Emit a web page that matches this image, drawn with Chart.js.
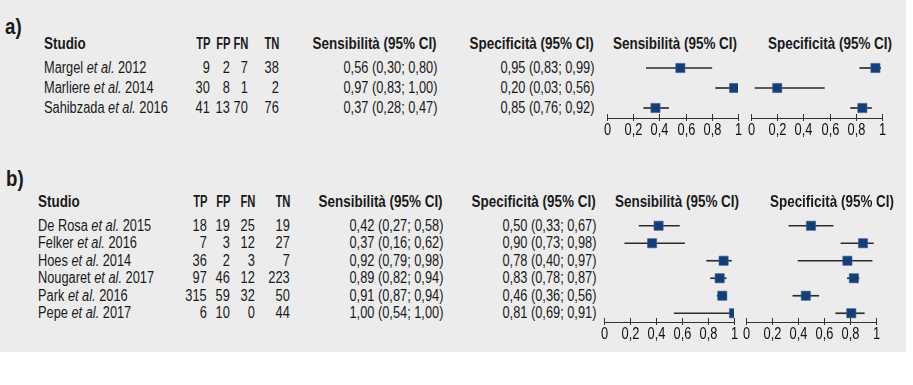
<!DOCTYPE html>
<html>
<head>
<meta charset="utf-8">
<script src="https://cdn.jsdelivr.net/npm/chart.js@4"></script>
<style>
  body { margin: 0; background: #fff; }
  #panel { position: absolute; left: 0; top: 0; width: 906px; height: 352px; background: #ececec; overflow: hidden; }
  .t { position: absolute; white-space: nowrap; font-family: 'Liberation Sans', Arial, sans-serif;
       font-size: 16px; line-height: 16px; color: #1a1a1a; transform: scaleX(0.8); transform-origin: left center; }
  .b { font-weight: bold; transform: scaleX(0.84); }
  .n { transform: scaleX(0.7); }
  .r { transform-origin: right center; }
  .title { font-weight: bold; font-size: 22px; line-height: 22px; transform: scaleX(0.85); }
  canvas { position: absolute; }
</style>
</head>
<body>
<div id="panel"></div>
<script>
const FONT = "'Liberation Sans', Arial, sans-serif";
const PANEL_W = 906;
const tickLabels = ['0', '0,2', '0,4', '0,6', '0,8', '1'];
const headers = ['Studio', 'TP', 'FP', 'FN', 'TN', 'Sensibilità (95% CI)', 'Specificità (95% CI)'];

// a)
const authorsA = ['Margel', 'Marliere', 'Sahibzada'];
const yearsA = [2012, 2014, 2016];
const tpA = [9, 30, 41];
const fpA = [2, 8, 13];
const fnA = [7, 1, 70];
const tnA = [38, 2, 76];
const sensA = [0.56, 0.97, 0.37];
const sensLoA = [0.30, 0.83, 0.28];
const sensHiA = [0.80, 1.00, 0.47];
const specA = [0.95, 0.20, 0.85];
const specLoA = [0.83, 0.03, 0.76];
const specHiA = [0.99, 0.56, 0.92];

// b)
const authorsB = ['De Rosa', 'Felker', 'Hoes', 'Nougaret', 'Park', 'Pepe'];
const yearsB = [2015, 2016, 2014, 2017, 2016, 2017];
const tpB = [18, 7, 36, 97, 315, 6];
const fpB = [19, 3, 2, 46, 59, 10];
const fnB = [25, 12, 3, 12, 32, 0];
const tnB = [19, 27, 7, 223, 50, 44];
const sensB = [0.42, 0.37, 0.92, 0.89, 0.91, 1.00];
const sensLoB = [0.27, 0.16, 0.79, 0.82, 0.87, 0.54];
const sensHiB = [0.58, 0.62, 0.98, 0.94, 0.94, 1.00];
const specB = [0.50, 0.90, 0.78, 0.83, 0.46, 0.81];
const specLoB = [0.33, 0.73, 0.40, 0.78, 0.36, 0.69];
const specHiB = [0.67, 0.98, 0.97, 0.87, 0.56, 0.91];

const panel = document.getElementById('panel');

function put(html, x, y, cls, right) {
  const d = document.createElement('div');
  d.className = 't ' + (cls || '') + (right ? ' r' : '');
  d.innerHTML = html;
  if (right) d.style.right = (PANEL_W - x) + 'px';
  else d.style.left = x + 'px';
  d.style.top = (y - 8) + 'px';
  panel.appendChild(d);
  return d;
}

const f2 = v => v.toFixed(2).replace('.', ',');
const ci = (e, l, h) => `${f2(e)} (${f2(l)}; ${f2(h)})`;

// narrow tick labels + ticks crossing the axis line
const axisDecor = {
  id: 'axisDecor',
  afterDraw(chart) {
    const sx = chart.scales.x;
    const ctx = chart.ctx;
    const y0 = sx.top;
    ctx.save();
    ctx.strokeStyle = '#333';
    ctx.lineWidth = 1;
    ctx.fillStyle = '#111';
    ctx.font = '16px ' + FONT;
    ctx.textAlign = 'center';
    ctx.textBaseline = 'middle';
    sx.ticks.forEach((t, i) => {
      const x = Math.round(sx.getPixelForValue(t.value)) + 0.5;
      ctx.beginPath();
      ctx.moveTo(x, y0 - 4);
      ctx.lineTo(x, y0 + 3);
      ctx.stroke();
      ctx.save();
      ctx.translate(x, y0 + 13);
      ctx.scale(0.8, 1);
      ctx.fillText(tickLabels[i], 0, 0);
      ctx.restore();
    });
    ctx.restore();
  },
};

function forest(x0, w, top, bottom, labels, est, lo, hi) {
  const padL = 14, padR = 14, padT = 8, axisH = 24, padB = 4;
  const c = document.createElement('canvas');
  c.width = w + padL + padR;
  c.height = bottom - top + padT + axisH + padB;
  c.style.left = (x0 - padL) + 'px';
  c.style.top = (top - padT) + 'px';
  panel.appendChild(c);
  new Chart(c, {
    type: 'bar',
    data: {
      labels: labels,
      datasets: [
        {
          type: 'bar',
          data: lo.map((l, i) => [l, hi[i]]),
          backgroundColor: '#2b2b2b',
          barThickness: 1,
          borderWidth: 0,
          order: 2,
        },
        {
          type: 'line',
          data: est,
          showLine: false,
          pointStyle: 'rect',
          pointRadius: 6.5,
          pointBackgroundColor: '#143e7a',
          pointBorderColor: '#3a6298',
          pointBorderWidth: 0.6,
          order: 1,
        },
      ],
    },
    options: {
      indexAxis: 'y',
      responsive: false,
      animation: false,
      devicePixelRatio: 1,
      layout: { padding: { left: padL, right: padR, top: padT, bottom: padB } },
      plugins: { legend: { display: false }, tooltip: { enabled: false } },
      scales: {
        y: { display: false, offset: true },
        x: {
          type: 'linear',
          min: 0,
          max: 1,
          afterFit: s => { s.height = axisH; },
          border: { display: true, color: '#333', width: 1 },
          grid: { drawOnChartArea: false, drawTicks: false },
          ticks: { stepSize: 0.2, display: false },
        },
      },
    },
    plugins: [axisDecor],
  });
}

function drawPanel(p, d) {
  put(p.title, p.titleX, p.titleY, 'title');
  const hy = p.headerY;
  put(headers[0], p.studio, hy, 'b');
  ['tp', 'fp', 'fn', 'tn'].forEach((k, j) => put(headers[j + 1], p[k], hy, 'b n', true));
  put(headers[5], p.sens, hy, 'b', true);
  put(headers[6], p.spec, hy, 'b', true);
  put(headers[5], p.sensHead, hy, 'b');
  put(headers[6], p.specHead, hy, 'b');

  const n = d.authors.length;
  const rowH = (p.bottom - p.top) / n;
  for (let i = 0; i < n; i++) {
    const y = p.top + (i + 0.5) * rowH;
    put(`${d.authors[i]} <i>et al.</i> ${d.years[i]}`, p.studio, y);
    put(d.tp[i], p.tp, y, '', true);
    put(d.fp[i], p.fp, y, '', true);
    put(d.fn[i], p.fn, y, '', true);
    put(d.tn[i], p.tn, y, '', true);
    put(ci(d.sens[i], d.sensLo[i], d.sensHi[i]), p.sens, y, '', true);
    put(ci(d.spec[i], d.specLo[i], d.specHi[i]), p.spec, y, '', true);
  }
  const labels = d.authors.map((a, i) => a + ' ' + d.years[i]);
  forest(p.sensX, p.axisW, p.top, p.bottom, labels, d.sens, d.sensLo, d.sensHi);
  forest(p.specX, p.axisW, p.top, p.bottom, labels, d.spec, d.specLo, d.specHi);
}

drawPanel(
  { title: 'a)', titleX: 5, titleY: 24, headerY: 44, top: 58, bottom: 118,
    studio: 44, tp: 210, fp: 230, fn: 248, tn: 279, sens: 437, spec: 594,
    sensHead: 613, specHead: 768, sensX: 607, specX: 751, axisW: 131 },
  { authors: authorsA, years: yearsA, tp: tpA, fp: fpA, fn: fnA, tn: tnA,
    sens: sensA, sensLo: sensLoA, sensHi: sensHiA, spec: specA, specLo: specLoA, specHi: specHiA }
);

drawPanel(
  { title: 'b)', titleX: 6, titleY: 176, headerY: 202, top: 217, bottom: 322,
    studio: 38, tp: 207, fp: 230, fn: 255, tn: 290, sens: 443, spec: 596,
    sensHead: 615, specHead: 770, sensX: 604, specX: 746, axisW: 130 },
  { authors: authorsB, years: yearsB, tp: tpB, fp: fpB, fn: fnB, tn: tnB,
    sens: sensB, sensLo: sensLoB, sensHi: sensHiB, spec: specB, specLo: specLoB, specHi: specHiB }
);
</script>
</body>
</html>
